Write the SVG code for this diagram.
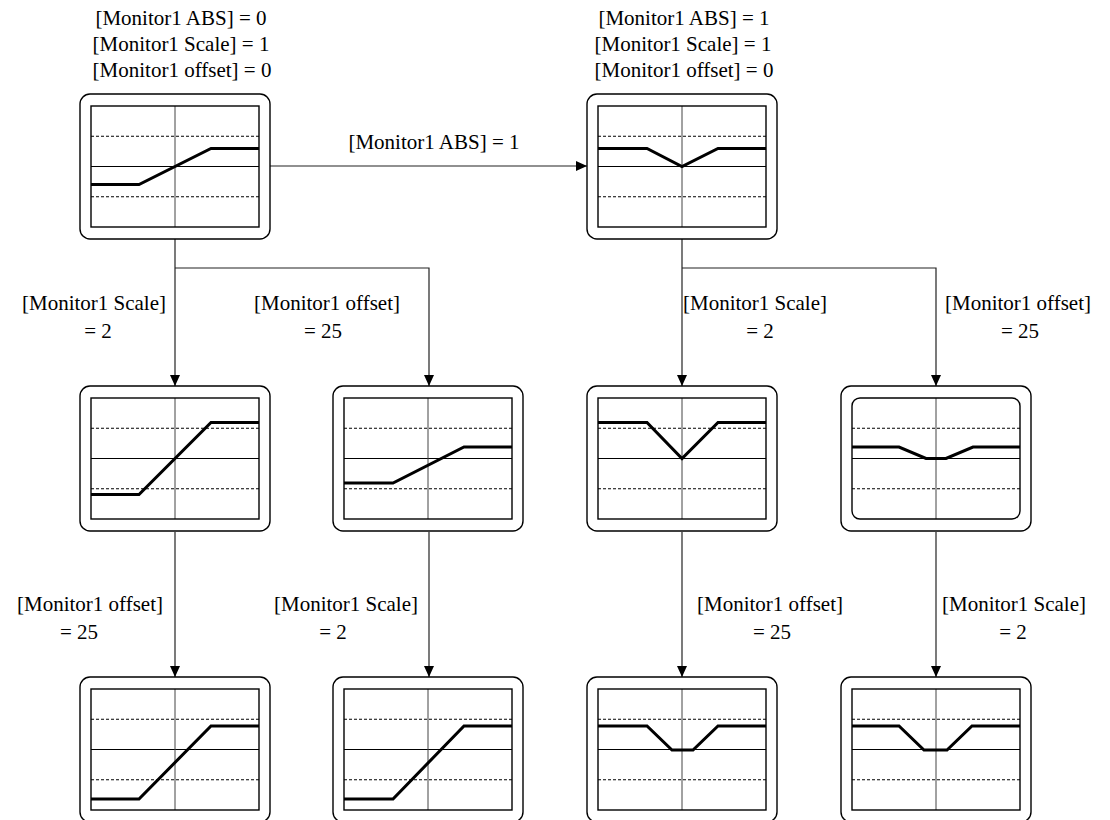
<svg xmlns="http://www.w3.org/2000/svg" width="1110" height="820" viewBox="0 0 1110 820">
<style>
text{font-family:"Times New Roman","Liberation Serif",Times,serif;font-size:21px;fill:#000;text-anchor:middle}
.outer{fill:#fff;stroke:#000;stroke-width:1.4}
.inner{fill:none;stroke:#000;stroke-width:1.4}
.grid{stroke:#000;stroke-width:1;fill:none}
.vgrid{stroke:#444;stroke-width:1;fill:none}
.dash{stroke:#000;stroke-width:1;stroke-dasharray:3,2;fill:none}
.curve{stroke:#000;stroke-width:3;fill:none;stroke-linejoin:miter}
.conn{stroke:#222;stroke-width:1.2;fill:none}
</style>
<defs>
<marker id="arr" markerUnits="userSpaceOnUse" markerWidth="12" markerHeight="10" refX="11" refY="5" orient="auto">
<path d="M0,0 L11,5 L0,10 Z" fill="#000"/>
</marker>
<g id="frame">
<rect class="outer" x="0" y="0" width="190" height="145" rx="10" ry="10"/>
<line class="dash" x1="11" y1="42.25" x2="179" y2="42.25"/>
<line class="dash" x1="11" y1="102.75" x2="179" y2="102.75"/>
<line class="grid" x1="11" y1="72.5" x2="179" y2="72.5"/>
<line class="vgrid" x1="95" y1="12" x2="95" y2="133"/>
</g>
</defs>

<g id="labels" font-family="Liberation Serif, serif">
<text x="181" y="25">[Monitor1 ABS] = 0</text>
<text x="181" y="51">[Monitor1 Scale] = 1</text>
<text x="182" y="77">[Monitor1 offset] = 0</text>
<text x="684" y="25">[Monitor1 ABS] = 1</text>
<text x="683" y="51">[Monitor1 Scale] = 1</text>
<text x="684" y="77">[Monitor1 offset] = 0</text>
<text x="434" y="149">[Monitor1 ABS] = 1</text>
<text x="94" y="310">[Monitor1 Scale]</text>
<text x="98" y="338">= 2</text>
<text x="327" y="310">[Monitor1 offset]</text>
<text x="323" y="338">= 25</text>
<text x="755" y="310">[Monitor1 Scale]</text>
<text x="760" y="338">= 2</text>
<text x="1018" y="310">[Monitor1 offset]</text>
<text x="1020" y="338">= 25</text>
<text x="90" y="611">[Monitor1 offset]</text>
<text x="79" y="639">= 25</text>
<text x="346" y="611">[Monitor1 Scale]</text>
<text x="333" y="639">= 2</text>
<text x="770" y="611">[Monitor1 offset]</text>
<text x="772" y="639">= 25</text>
<text x="1014" y="611">[Monitor1 Scale]</text>
<text x="1013" y="639">= 2</text>
</g>

<g id="connectors">
<line class="conn" x1="270" y1="166" x2="587" y2="166" marker-end="url(#arr)"/>
<line class="conn" x1="175" y1="239" x2="175" y2="386" marker-end="url(#arr)"/>
<polyline class="conn" points="175,268 429,268 429,386" marker-end="url(#arr)"/>
<line class="conn" x1="682" y1="239" x2="682" y2="386" marker-end="url(#arr)"/>
<polyline class="conn" points="682,268 936,268 936,386" marker-end="url(#arr)"/>
<line class="conn" x1="175" y1="532" x2="175" y2="677" marker-end="url(#arr)"/>
<line class="conn" x1="429" y1="532" x2="429" y2="677" marker-end="url(#arr)"/>
<line class="conn" x1="682" y1="532" x2="682" y2="677" marker-end="url(#arr)"/>
<line class="conn" x1="936" y1="532" x2="936" y2="677" marker-end="url(#arr)"/>
</g>

<g id="node-tl" transform="translate(80,94)">
<use href="#frame"/>
<rect class="inner" x="11" y="12" width="168" height="121"/>
<polyline class="curve" points="11,90.5 59,90.5 131,54.5 179,54.5"/>
</g>
<g id="node-tr" transform="translate(587,94)">
<use href="#frame"/>
<rect class="inner" x="11" y="12" width="168" height="121"/>
<polyline class="curve" points="11,54.5 60,54.5 95,72.5 131,54.5 179,54.5"/>
</g>
<g id="node-m1" transform="translate(80,386)">
<use href="#frame"/>
<rect class="inner" x="11" y="12" width="168" height="121"/>
<polyline class="curve" points="11,108.5 59,108.5 131,36.5 179,36.5"/>
</g>
<g id="node-m2" transform="translate(333,386)">
<use href="#frame"/>
<rect class="inner" x="11" y="12" width="168" height="121"/>
<polyline class="curve" points="11,97 60,97 131,61 179,61"/>
</g>
<g id="node-m3" transform="translate(587,386)">
<use href="#frame"/>
<rect class="inner" x="11" y="12" width="168" height="121"/>
<polyline class="curve" points="11,36.5 60,36.5 95,72.5 131,36.5 179,36.5"/>
</g>
<g id="node-m4" transform="translate(841,386)">
<use href="#frame"/>
<rect class="inner" x="11" y="12" width="168" height="121" rx="8" ry="8"/>
<polyline class="curve" points="11,61 58,61 85,72.5 105,72.5 132,61 179,61"/>
</g>
<g id="node-b1" transform="translate(80,677)">
<use href="#frame"/>
<rect class="inner" x="11" y="12" width="168" height="121"/>
<polyline class="curve" points="11,122 59,122 131,49 179,49"/>
</g>
<g id="node-b2" transform="translate(333,677)">
<use href="#frame"/>
<rect class="inner" x="11" y="12" width="168" height="121"/>
<polyline class="curve" points="11,122 60,122 131,49 179,49"/>
</g>
<g id="node-b3" transform="translate(587,677)">
<use href="#frame"/>
<rect class="inner" x="11" y="12" width="168" height="121"/>
<polyline class="curve" points="11,49 60,49 85,73 106,73 131,49 179,49"/>
</g>
<g id="node-b4" transform="translate(841,677)">
<use href="#frame"/>
<rect class="inner" x="11" y="12" width="168" height="121"/>
<polyline class="curve" points="11,49 58,49 83,73 106,73 131,49 179,49"/>
</g>
</svg>
